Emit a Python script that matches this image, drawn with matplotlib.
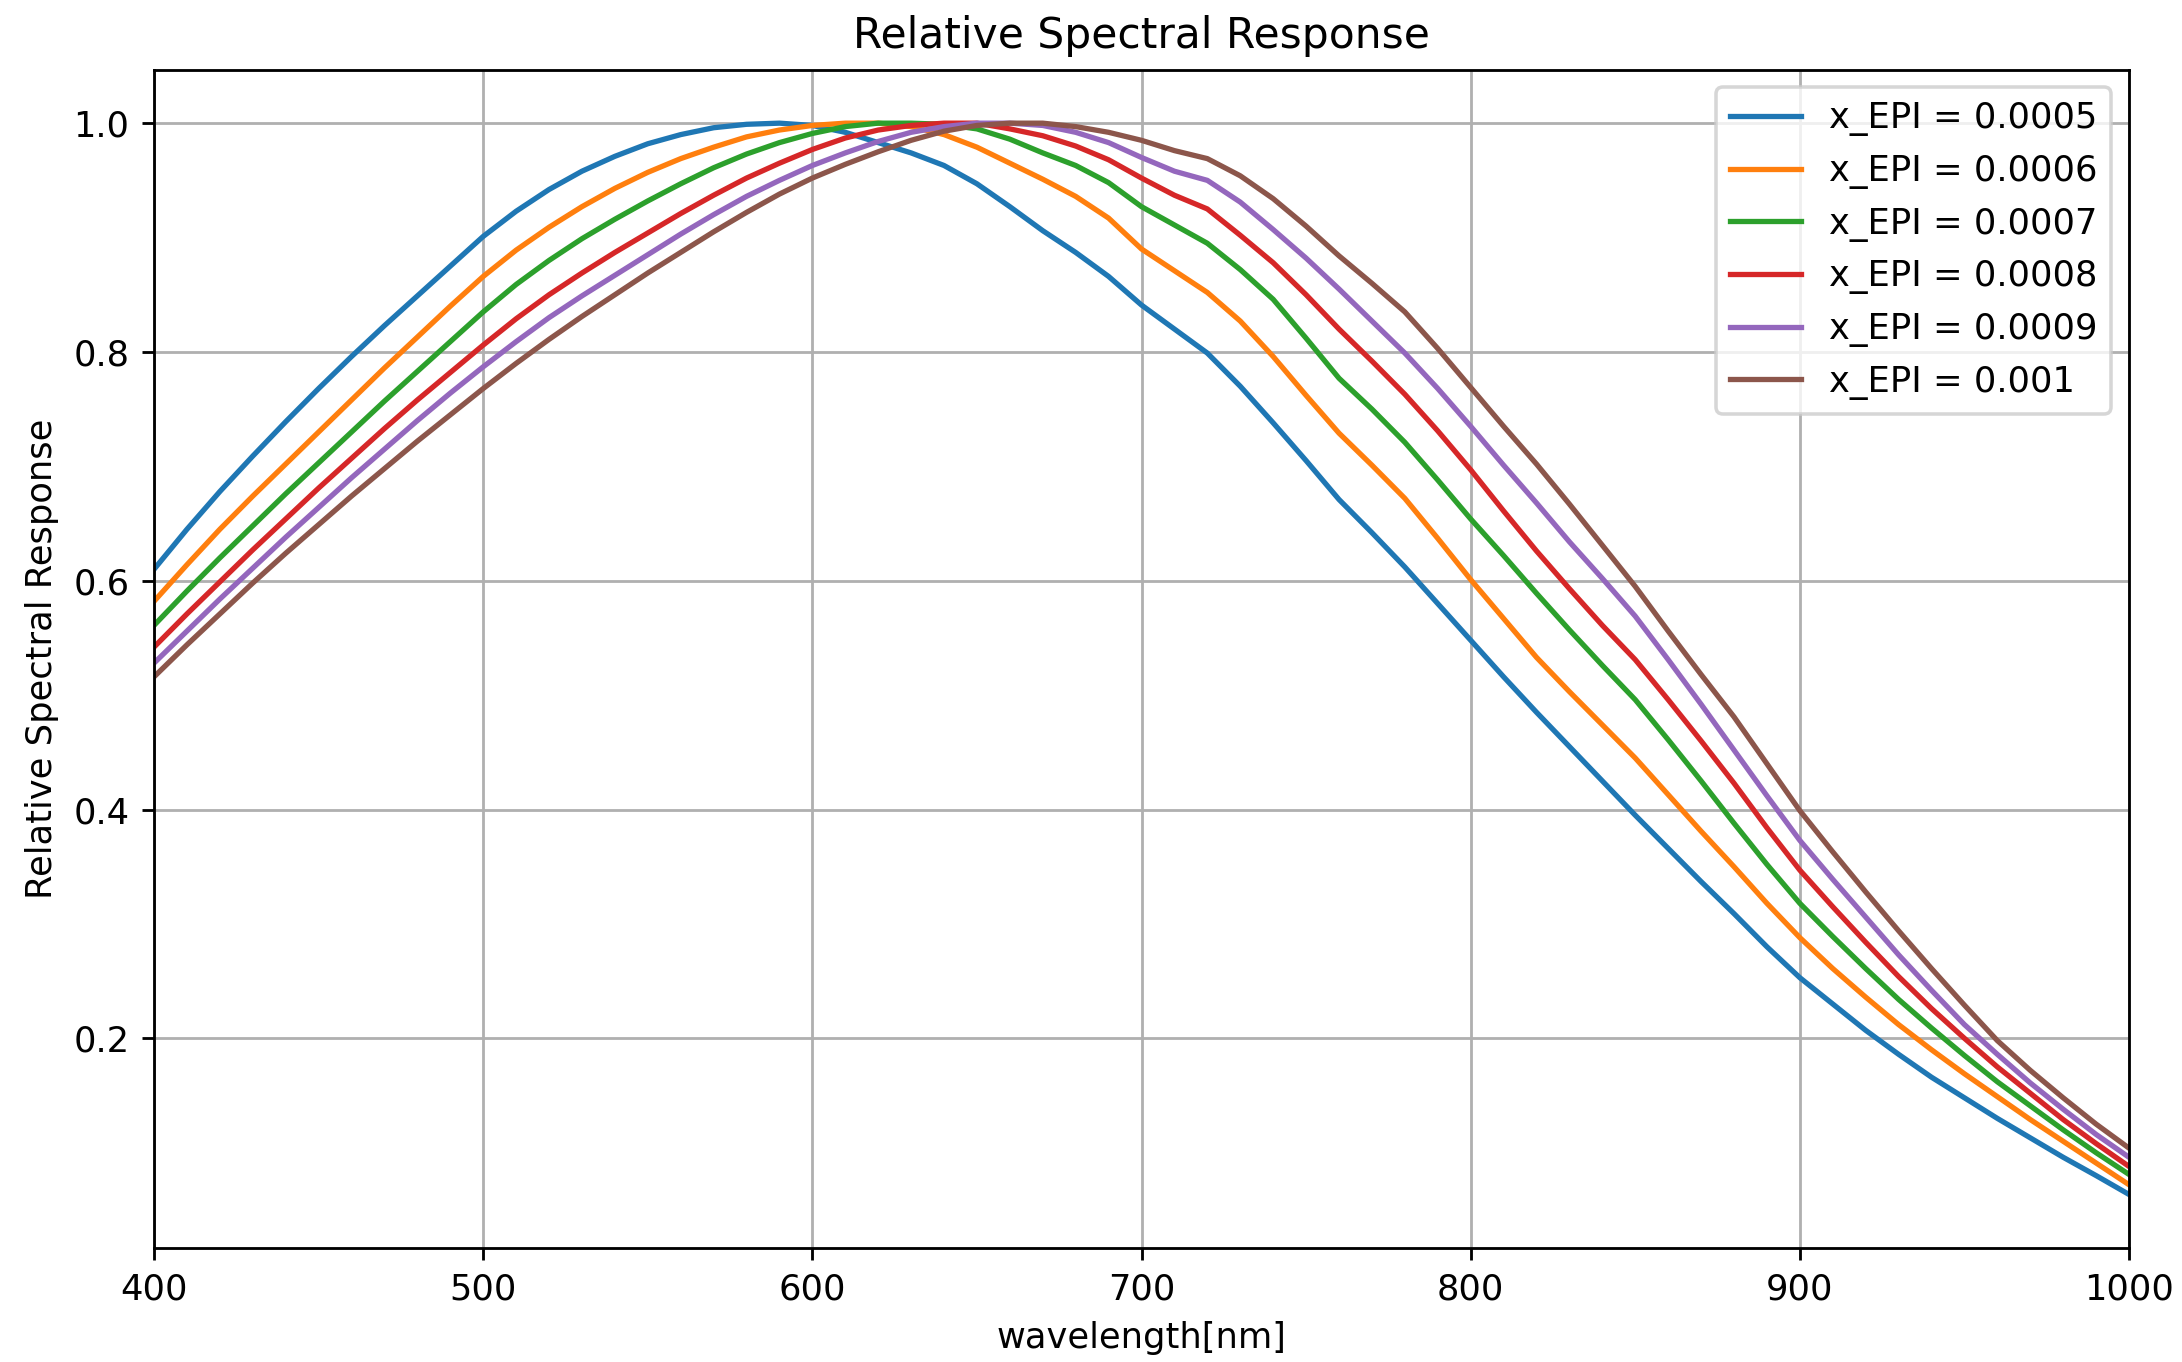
import numpy as np
import matplotlib
matplotlib.use("Agg")
import matplotlib.pyplot as plt

# wavelength grid, 10 nm steps
wavelength = np.arange(400, 1001, 10)

x_epi = [0.0005, 0.0006, 0.0007, 0.0008, 0.0009, 0.001]

resp_0005 = [
    0.610, 0.645, 0.678, 0.709, 0.739, 0.768, 0.796, 0.823, 0.849, 0.875,
    0.901, 0.923, 0.942, 0.958, 0.971, 0.982, 0.990, 0.996, 0.999, 1.000,
    0.998, 0.992, 0.983, 0.974, 0.963, 0.947, 0.927, 0.906, 0.887, 0.866,
    0.841, 0.820, 0.799, 0.770, 0.738, 0.705, 0.671, 0.642, 0.612, 0.580,
    0.548, 0.516, 0.485, 0.455, 0.425, 0.395, 0.366, 0.337, 0.309, 0.280,
    0.253, 0.230, 0.207, 0.186, 0.166, 0.148, 0.130, 0.113, 0.096, 0.080,
    0.0635,
]
resp_0006 = [
    0.582, 0.614, 0.645, 0.674, 0.702, 0.730, 0.758, 0.786, 0.813, 0.840,
    0.866, 0.889, 0.909, 0.927, 0.943, 0.957, 0.969, 0.979, 0.988, 0.994,
    0.998, 1.000, 1.000, 0.997, 0.990, 0.979, 0.965, 0.951, 0.936, 0.917,
    0.890, 0.871, 0.852, 0.827, 0.796, 0.762, 0.729, 0.701, 0.672, 0.637,
    0.601, 0.567, 0.533, 0.503, 0.474, 0.445, 0.413, 0.381, 0.350, 0.318,
    0.288, 0.261, 0.236, 0.212, 0.190, 0.169, 0.149, 0.129, 0.110, 0.091,
    0.072,
]
resp_0007 = [
    0.561, 0.591, 0.620, 0.648, 0.676, 0.703, 0.730, 0.757, 0.783, 0.809,
    0.835, 0.859, 0.880, 0.899, 0.916, 0.932, 0.947, 0.961, 0.973, 0.983,
    0.991, 0.997, 1.000, 1.000, 0.999, 0.995, 0.986, 0.974, 0.963, 0.948,
    0.927, 0.911, 0.895, 0.872, 0.846, 0.812, 0.777, 0.750, 0.721, 0.688,
    0.654, 0.622, 0.589, 0.557, 0.526, 0.496, 0.461, 0.425, 0.388, 0.352,
    0.318, 0.289, 0.261, 0.234, 0.209, 0.185, 0.162, 0.141, 0.120, 0.100,
    0.081,
]
resp_0008 = [
    0.542, 0.571, 0.599, 0.627, 0.654, 0.681, 0.707, 0.733, 0.758, 0.782,
    0.806, 0.829, 0.850, 0.869, 0.887, 0.904, 0.921, 0.937, 0.952, 0.965,
    0.977, 0.987, 0.994, 0.998, 1.000, 1.000, 0.995, 0.989, 0.980, 0.968,
    0.952, 0.937, 0.925, 0.902, 0.878, 0.850, 0.820, 0.792, 0.763, 0.731,
    0.697, 0.661, 0.626, 0.593, 0.561, 0.531, 0.496, 0.460, 0.423, 0.384,
    0.347, 0.315, 0.284, 0.254, 0.226, 0.200, 0.175, 0.152, 0.129, 0.108,
    0.088,
]
resp_0009 = [
    0.528, 0.556, 0.584, 0.611, 0.638, 0.664, 0.690, 0.715, 0.740, 0.764,
    0.787, 0.809, 0.830, 0.849, 0.867, 0.885, 0.903, 0.920, 0.936, 0.950,
    0.963, 0.974, 0.984, 0.992, 0.997, 1.000, 1.000, 0.998, 0.992, 0.983,
    0.970, 0.958, 0.950, 0.931, 0.907, 0.882, 0.855, 0.827, 0.799, 0.768,
    0.735, 0.701, 0.668, 0.634, 0.602, 0.569, 0.531, 0.492, 0.452, 0.412,
    0.373, 0.339, 0.306, 0.273, 0.242, 0.212, 0.186, 0.161, 0.138, 0.116,
    0.096,
]
resp_0010 = [
    0.516, 0.544, 0.571, 0.598, 0.624, 0.649, 0.674, 0.698, 0.722, 0.745,
    0.768, 0.790, 0.811, 0.831, 0.850, 0.869, 0.887, 0.905, 0.922, 0.938,
    0.952, 0.964, 0.975, 0.985, 0.993, 0.998, 1.000, 1.000, 0.997, 0.992,
    0.985, 0.976, 0.969, 0.954, 0.934, 0.910, 0.884, 0.860, 0.835, 0.803,
    0.769, 0.735, 0.702, 0.667, 0.631, 0.595, 0.556, 0.518, 0.481, 0.440,
    0.399, 0.363, 0.328, 0.294, 0.261, 0.229, 0.198, 0.172, 0.148, 0.125,
    0.104,
]

responses = [resp_0005, resp_0006, resp_0007, resp_0008, resp_0009, resp_0010]

DPI = 254
fig = plt.figure(figsize=(2182 / DPI, 1362 / DPI), dpi=DPI)
ax = fig.add_axes([0.0706, 0.0837, 0.9051, 0.8652])

for xe, r in zip(x_epi, responses):
    ax.plot(wavelength, r, label=f"x_EPI = {xe}")

ax.set_xlim(400, 1000)
ax.set_title("Relative Spectral Response")
ax.set_xlabel("wavelength[nm]")
ax.set_ylabel("Relative Spectral Response")
ax.grid(True)
ax.legend(loc="upper right")

fig.savefig("out.png", dpi=DPI)
